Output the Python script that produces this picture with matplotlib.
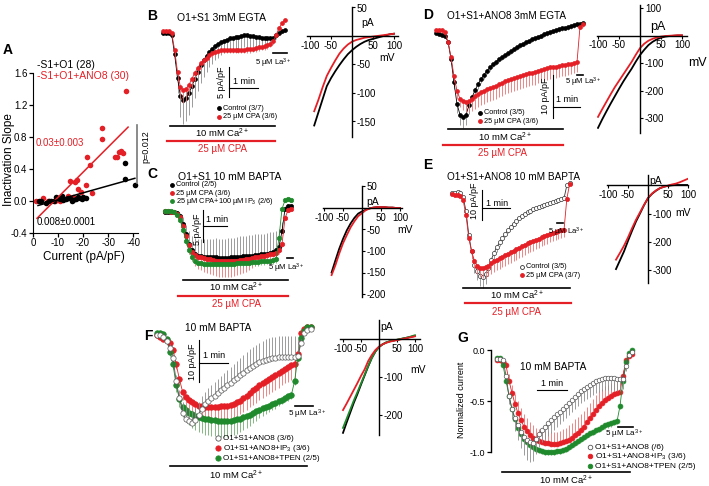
import numpy as np
import matplotlib
matplotlib.use('Agg')
import matplotlib.pyplot as plt
from matplotlib.lines import Line2D

plt.rcParams['font.family'] = ['Liberation Sans', 'DejaVu Sans']
plt.rcParams['mathtext.fontset'] = 'custom'
plt.rcParams['mathtext.rm'] = 'Liberation Sans'
plt.rcParams['mathtext.default'] = 'regular'
plt.rcParams['axes.unicode_minus'] = False

RED = '#e41f26'
GREEN = '#1f8a2c'
GRAY = '#8c8c8c'
PINK = '#f07070'
LGREEN = '#6fae6f'

# ---------------- data ----------------
# A: inactivation slope vs current
a_ctl_x = [-2.4, -3.3, -5.3, -6.4, -7.3, -8.4, -9.3, -10.1, -10.9, -11.5, -12.0, -13.3, -14.0, -14.9,
           -15.5, -16.0, -17.1, -18.0, -18.7, -19.7, -20.0, -21.1, -36.7, -36.7, -40.7]
a_ctl_y = [0.00, -0.01, -0.03, 0.00, 0.00, -0.01, 0.05, 0.03, 0.02, 0.06, 0.01, 0.02, 0.03, 0.03,
           0.00, 0.01, 0.02, 0.04, 0.03, 0.02, 0.05, 0.03, 0.47, 0.27, 0.20]
a_ano_x = [-1.1, -4.0, -6.0, -8.7, -10.7, -12.5, -14.0, -14.7, -16.0, -16.7, -17.6, -18.0, -19.3, -21.1,
           -21.6, -22.7, -23.7, -27.6, -27.6, -32.7, -33.6, -34.3, -35.3, -36.0, -37.3]
a_ano_y = [0.00, 0.03, 0.00, -0.01, 0.00, 0.02, 0.06, 0.25, 0.05, 0.23, 0.26, 0.14, 0.11, 0.19,
           0.54, 0.44, 0.09, 0.91, 0.77, 0.54, 0.55, 0.61, 0.62, 0.60, 1.37]
a_ctl_fit_x = [-2.0, -40.7]
a_ctl_fit_y = [-0.06, 0.28]
a_ano_fit_x = [-1.6, -38.0]
a_ano_fit_y = [-0.22, 0.92]

# B: O1+S1 3mM EGTA (pA/pF, 10 samples/min)
b_ctl = [0.0, 0.0, 0.0, -0.3, -3.5, -7.5, -10.5, -11.2, -10.8, -10.0,
         -8.8, -7.6, -6.5, -5.4, -4.5, -3.8, -3.1, -2.6, -2.1, -1.8,
         -1.5, -1.3, -1.1, -0.9, -0.8, -0.7, -0.6, -0.5, -0.4, -0.4,
         -0.5, -0.5, -0.6, -0.7, -0.8, -0.8, -0.9, -0.9, -0.8, -0.4,
         0.0, 0.3, 0.5]
b_ctl_err = [0.3, 0.3, 0.3, 0.5, 1.5, 2.5, 3.5, 4.0, 3.9, 3.7,
             3.5, 3.3, 3.1, 2.9, 2.8, 2.7, 2.6, 2.5, 2.4, 2.3,
             2.2, 2.1, 2.1, 2.0, 2.0, 2.0, 2.0, 2.0, 2.0, 1.9,
             1.9, 1.8, 1.8, 1.7, 1.6, 1.5, 1.4, 1.3, 1.0, 0.6,
             0.4, 0.3, 0.3]
b_cpa = [0.3, 0.3, 0.3, 0.0, -2.8, -6.5, -9.0, -9.5, -9.3, -8.6,
         -7.6, -6.6, -5.8, -5.0, -4.5, -4.1, -3.7, -3.4, -3.2, -3.0,
         -2.9, -2.8, -2.8, -2.8, -2.8, -2.8, -2.8, -2.8, -2.8, -2.7,
         -2.7, -2.6, -2.5, -2.4, -2.3, -2.2, -2.0, -1.8, -1.4, -0.3,
         0.8, 1.6, 2.2]
b_cpa_err = [0.3, 0.3, 0.3, 0.3, 1.0, 1.5, 2.0, 2.2, 2.0, 1.8,
             1.6, 1.4, 1.2, 1.0, 0.9, 0.8, 0.8, 0.7, 0.7, 0.7,
             0.6, 0.6, 0.6, 0.6, 0.6, 0.6, 0.6, 0.6, 0.6, 0.6,
             0.6, 0.6, 0.6, 0.6, 0.6, 0.6, 0.6, 0.6, 0.5, 0.4,
             0.3, 0.3, 0.3]

# C: O1+S1 10 mM BAPTA (8 samples/min)
c_ctl = [0.0, 0.0, 0.0, 0.0, -0.2, -0.6, -1.8, -3.5, -5.0, -6.0,
         -6.5, -6.8, -6.9, -7.0, -7.0, -7.1, -7.1, -7.1, -7.2, -7.2,
         -7.2, -7.2, -7.1, -7.1, -7.0, -7.0, -6.9, -6.9, -6.8, -6.8,
         -6.7, -6.7, -6.6, -6.6, -6.5, -6.4, -6.3, -6.0, -5.5, -3.0,
         0.5, 1.0, 1.0]
c_ctl_err = [0.2, 0.2, 0.2, 0.2, 0.3, 0.5, 1.0, 1.5, 2.0, 2.3,
             2.5, 2.6, 2.7, 2.8, 2.8, 2.9, 2.9, 3.0, 3.0, 3.0,
             3.0, 3.1, 3.1, 3.1, 3.1, 3.2, 3.2, 3.2, 3.2, 3.2,
             3.2, 3.2, 3.2, 3.2, 3.2, 3.2, 3.1, 3.0, 2.8, 1.5,
             0.5, 0.3, 0.3]
c_cpa = [0.1, 0.1, 0.0, 0.0, -0.3, -0.8, -2.2, -3.8, -5.2, -6.2,
         -6.7, -7.0, -7.1, -7.2, -7.3, -7.4, -7.5, -7.6, -7.6, -7.7,
         -7.7, -7.7, -7.7, -7.6, -7.6, -7.5, -7.5, -7.4, -7.3, -7.2,
         -7.1, -7.0, -6.9, -6.8, -6.7, -6.6, -6.5, -6.4, -6.0, -5.0,
         -1.0, 0.3, 0.5]
c_cpa_err = [0.2, 0.2, 0.2, 0.2, 0.3, 0.5, 0.8, 1.0, 1.3, 1.5,
             1.7, 1.9, 2.0, 2.1, 2.2, 2.3, 2.4, 2.4, 2.5, 2.5,
             2.5, 2.5, 2.4, 2.4, 2.3, 2.2, 2.1, 2.0, 1.8, 1.6,
             1.4, 1.2, 1.0, 0.9, 0.8, 0.7, 0.6, 0.6, 0.6, 0.5,
             0.3, 0.3, 0.3]
c_ip3 = [0.2, 0.2, 0.1, 0.0, -0.4, -1.2, -2.8, -4.5, -6.0, -7.0,
         -7.6, -7.9, -8.0, -8.1, -8.1, -8.2, -8.2, -8.2, -8.2, -8.2,
         -8.2, -8.1, -8.1, -8.1, -8.0, -8.0, -8.0, -7.9, -7.9, -7.8,
         -7.8, -7.8, -7.7, -7.7, -7.6, -7.6, -7.5, -7.4, -4.0, 0.5,
         1.8, 2.0, 1.9]
c_ip3_err = [0.2, 0.2, 0.2, 0.2, 0.3, 0.4, 0.5, 0.6, 0.6, 0.6,
             0.6, 0.6, 0.6, 0.6, 0.6, 0.6, 0.6, 0.6, 0.6, 0.6,
             0.6, 0.6, 0.6, 0.6, 0.6, 0.6, 0.6, 0.6, 0.6, 0.6,
             0.6, 0.6, 0.6, 0.6, 0.6, 0.6, 0.6, 0.6, 0.5, 0.3,
             0.3, 0.3, 0.3]

# D: O1+S1+ANO8 3mM EGTA (9 samples/min)
d_ctl = [0.0, -0.2, -0.4, -0.8, -2.0, -6.0, -11.5, -16.5, -19.0, -19.5,
         -19.0, -16.8, -15.0, -13.3, -11.9, -10.7, -9.7, -8.8, -8.0, -7.3,
         -6.7, -6.1, -5.6, -5.1, -4.7, -4.3, -3.7, -3.3, -2.9, -2.5,
         -2.1, -1.8, -1.5, -1.2, -0.9, -0.6, -0.3, -0.1, 0.2, 0.5,
         0.7, 0.9, 1.1, 1.2, 1.4, 1.6, 1.8, 2.0, 2.2, 2.3]
d_ctl_err = [0.3, 0.3, 0.3, 0.4, 0.8, 1.2, 1.6, 2.0, 2.4, 2.6,
             2.4, 2.0, 1.6, 1.4, 1.2, 1.0, 0.9, 0.8, 0.8, 0.7,
             0.7, 0.7, 0.6, 0.6, 0.6, 0.6, 0.6, 0.6, 0.6, 0.6,
             0.6, 0.6, 0.6, 0.6, 0.6, 0.6, 0.6, 0.6, 0.6, 0.6,
             0.6, 0.6, 0.6, 0.6, 0.6, 0.6, 0.6, 0.5, 0.5, 0.5]
d_cpa = [0.7, 0.8, 0.6, 0.2, -2.0, -5.6, -10.0, -13.5, -15.3, -15.8,
         -16.0, -15.8, -15.3, -14.6, -14.2, -13.7, -13.4, -13.0, -12.8, -12.6,
         -12.3, -11.9, -11.6, -11.2, -11.0, -10.7, -10.5, -10.2, -10.0, -9.8,
         -9.6, -9.4, -9.2, -9.0, -8.8, -8.6, -8.4, -8.2, -8.0, -7.9,
         -7.8, -7.6, -7.5, -7.4, -7.3, -7.1, -7.0, -6.8, 1.5, 2.0]
d_cpa_err = [0.3, 0.3, 0.3, 0.4, 0.8, 1.2, 1.5, 1.8, 2.0, 2.2,
             2.4, 2.6, 2.8, 3.0, 3.0, 3.0, 3.0, 3.0, 3.0, 3.0,
             3.0, 3.0, 3.0, 3.0, 3.0, 3.0, 3.0, 3.0, 3.0, 3.0,
             3.0, 3.0, 3.0, 3.0, 2.9, 2.9, 2.8, 2.8, 2.7, 2.7,
             2.6, 2.6, 2.5, 2.5, 2.4, 2.4, 2.3, 2.3, 0.5, 0.5]

# E: O1+S1+ANO8 10 mM BAPTA (10 samples/min)
e_ctl = [0.0, 0.0, 0.2, 0.0, -1.5, -6.0, -14.0, -19.5, -24.0, -26.0,
         -27.5, -28.0, -27.0, -25.0, -22.3, -20.0, -18.0, -16.5, -15.0, -13.7,
         -12.3, -11.2, -10.2, -9.2, -8.3, -7.6, -7.0, -6.4, -5.9, -5.4,
         -5.0, -4.6, -4.2, -3.9, -3.6, -3.3, -3.0, -2.7, -2.4, -2.1,
         -1.8, 2.5, 3.3]
e_ctl_err = [0.3, 0.3, 0.3, 0.3, 0.5, 1.0, 1.5, 2.0, 2.5, 3.0,
             3.5, 3.5, 3.2, 2.8, 2.4, 2.0, 1.6, 1.3, 1.1, 1.0,
             0.9, 0.9, 0.8, 0.8, 0.8, 0.7, 0.7, 0.7, 0.7, 0.6,
             0.6, 0.6, 0.6, 0.6, 0.6, 0.6, 0.6, 0.6, 0.6, 0.6,
             0.6, 0.4, 0.4]
e_cpa = [-0.5, -0.7, -0.7, -1.0, -2.5, -7.5, -15.0, -19.5, -22.5, -24.2,
         -25.0, -25.0, -24.8, -24.2, -23.4, -22.8, -22.2, -21.7, -21.2, -20.7,
         -20.2, -19.7, -19.2, -18.7, -18.3, -17.8, -17.3, -16.8, -16.4, -16.0,
         -15.6, -15.2, -14.8, -14.4, -14.0, -13.7, -13.4, -13.1, -12.8, -12.5,
         -12.3, -2.0, 3.0]
e_cpa_err = [0.3, 0.3, 0.3, 0.3, 0.6, 1.0, 1.5, 2.0, 2.5, 2.8,
             3.0, 3.2, 3.4, 3.5, 3.6, 3.6, 3.6, 3.6, 3.6, 3.6,
             3.6, 3.6, 3.5, 3.5, 3.5, 3.4, 3.4, 3.3, 3.3, 3.2,
             3.2, 3.1, 3.0, 3.0, 2.9, 2.8, 2.7, 2.6, 2.5, 2.4,
             2.3, 0.5, 0.3]

# F: 10 mM BAPTA, O1+S1+ANO8 (9 samples/min)
f_ctl = [0.0, 0.0, -0.5, -1.5, -3.0, -5.5, -11.0, -15.0, -18.5, -20.0,
         -20.5, -21.0, -20.3, -19.0, -17.5, -16.5, -15.7, -15.0, -14.5, -13.8,
         -13.2, -12.6, -12.0, -11.4, -10.8, -10.2, -9.6, -9.0, -8.3, -7.8,
         -7.3, -6.9, -6.5, -6.2, -5.9, -5.7, -5.5, -5.4, -5.3, -5.2,
         -5.2, -5.2, -5.2, -5.2, -5.0, -2.0, 0.5, 1.2, 1.5]
f_ctl_err = [0.3, 0.3, 0.3, 0.5, 0.8, 1.0, 1.5, 2.0, 2.5, 2.8,
             3.0, 3.0, 3.0, 3.0, 3.0, 3.0, 3.1, 3.2, 3.3, 3.4,
             3.5, 3.6, 3.7, 3.8, 3.9, 4.0, 4.1, 4.2, 4.3, 4.4,
             4.5, 4.6, 4.7, 4.8, 4.9, 5.0, 5.0, 5.0, 5.0, 5.0,
             5.0, 5.0, 5.0, 5.0, 4.5, 1.0, 0.5, 0.3, 0.3]
f_ip3 = [0.0, -0.5, -1.0, -1.2, -2.0, -3.5, -7.0, -10.5, -13.5, -14.8,
         -15.5, -16.0, -16.5, -16.8, -17.0, -17.1, -17.1, -17.1, -17.1, -17.1,
         -17.0, -17.0, -16.9, -16.7, -16.4, -16.0, -15.6, -15.1, -14.5, -13.8,
         -13.2, -12.6, -12.0, -11.5, -11.0, -10.5, -10.0, -9.5, -9.0, -8.5,
         -8.0, -7.6, -7.2, -6.8, -4.5, 0.5, 1.5, 1.8, 1.8]
f_ip3_err = [0.3, 0.3, 0.3, 0.3, 0.5, 0.8, 1.2, 1.6, 2.0, 2.3,
             2.5, 2.6, 2.7, 2.8, 2.9, 3.0, 3.0, 3.0, 3.0, 3.0,
             3.0, 3.0, 3.1, 3.1, 3.2, 3.2, 3.3, 3.3, 3.4, 3.4,
             3.5, 3.5, 3.5, 3.5, 3.5, 3.5, 3.5, 3.5, 3.5, 3.5,
             3.5, 3.5, 3.5, 3.4, 2.0, 0.5, 0.3, 0.3, 0.3]
f_tpen = [0.5, 0.5, 0.2, -1.0, -4.0, -7.0, -12.0, -15.2, -17.1, -17.8,
          -18.5, -18.9, -19.2, -19.6, -19.8, -20.0, -20.1, -20.2, -20.3, -20.4,
          -20.4, -20.5, -20.5, -20.4, -20.3, -20.1, -19.9, -19.6, -19.3, -19.0,
          -18.6, -18.2, -17.8, -17.4, -17.1, -16.8, -16.5, -16.2, -15.8, -15.4,
          -15.0, -14.6, -14.2, -11.0, -5.5, -0.8, 1.0, 1.8, 1.8]
f_tpen_err = [0.3, 0.3, 0.3, 0.4, 0.6, 1.0, 1.5, 2.0, 2.5, 2.8,
              3.0, 3.2, 3.4, 3.5, 3.6, 3.7, 3.8, 3.8, 3.8, 3.8,
              3.8, 3.8, 3.7, 3.6, 3.5, 3.4, 3.2, 3.0, 2.8, 2.6,
              2.4, 2.2, 2.0, 1.8, 1.6, 1.5, 1.4, 1.3, 1.2, 1.1,
              1.0, 1.0, 1.0, 1.0, 0.8, 0.4, 0.3, 0.3, 0.3]

# G: normalized current (10 samples/min)
g_ctl = [-0.09, -0.09, -0.10, -0.25, -0.45, -0.58, -0.67, -0.74, -0.80, -0.85,
         -0.88, -0.90, -0.91, -0.87, -0.82, -0.78, -0.75, -0.72, -0.69, -0.66,
         -0.63, -0.61, -0.58, -0.55, -0.52, -0.49, -0.46, -0.43, -0.40, -0.38,
         -0.36, -0.34, -0.32, -0.30, -0.29, -0.28, -0.27, -0.27, -0.27, -0.27,
         -0.28, -0.28, -0.28, -0.16, -0.05, -0.02]
g_ctl_err = [0.02, 0.02, 0.02, 0.05, 0.08, 0.10, 0.12, 0.14, 0.16, 0.18,
             0.20, 0.20, 0.18, 0.15, 0.13, 0.12, 0.12, 0.12, 0.12, 0.12,
             0.12, 0.12, 0.12, 0.12, 0.12, 0.12, 0.12, 0.12, 0.12, 0.12,
             0.12, 0.12, 0.12, 0.12, 0.12, 0.12, 0.12, 0.12, 0.12, 0.12,
             0.12, 0.12, 0.10, 0.05, 0.02, 0.02]
g_ip3 = [-0.10, -0.10, -0.12, -0.15, -0.30, -0.42, -0.53, -0.62, -0.69, -0.75,
         -0.79, -0.83, -0.86, -0.88, -0.89, -0.90, -0.91, -0.91, -0.92, -0.92,
         -0.92, -0.91, -0.90, -0.89, -0.88, -0.86, -0.83, -0.81, -0.78, -0.75,
         -0.71, -0.67, -0.63, -0.59, -0.55, -0.52, -0.49, -0.47, -0.45, -0.43,
         -0.42, -0.41, -0.25, -0.10, -0.06, -0.04]
g_ip3_err = [0.02, 0.02, 0.02, 0.04, 0.06, 0.08, 0.10, 0.12, 0.12, 0.12,
             0.12, 0.12, 0.12, 0.12, 0.12, 0.12, 0.12, 0.12, 0.12, 0.12,
             0.12, 0.12, 0.13, 0.13, 0.14, 0.14, 0.15, 0.15, 0.15, 0.15,
             0.15, 0.15, 0.15, 0.15, 0.15, 0.14, 0.14, 0.13, 0.13, 0.12,
             0.12, 0.10, 0.05, 0.02, 0.02, 0.02]
g_tpen = [-0.08, -0.08, -0.15, -0.30, -0.45, -0.58, -0.68, -0.76, -0.82, -0.87,
          -0.90, -0.93, -0.95, -0.97, -0.98, -0.99, -1.00, -1.00, -1.00, -1.00,
          -0.99, -0.99, -0.98, -0.97, -0.95, -0.93, -0.91, -0.89, -0.87, -0.85,
          -0.83, -0.81, -0.80, -0.78, -0.77, -0.75, -0.74, -0.73, -0.72, -0.71,
          -0.70, -0.55, -0.30, -0.12, -0.03, 0.00]
g_tpen_err = [0.02, 0.02, 0.02, 0.03, 0.03, 0.03, 0.03, 0.03, 0.03, 0.03,
              0.03, 0.03, 0.03, 0.03, 0.03, 0.03, 0.03, 0.03, 0.03, 0.03,
              0.03, 0.03, 0.03, 0.03, 0.03, 0.03, 0.03, 0.03, 0.03, 0.03,
              0.03, 0.03, 0.03, 0.03, 0.03, 0.03, 0.03, 0.03, 0.03, 0.03,
              0.03, 0.03, 0.03, 0.02, 0.02, 0.02]

# I-V curves (mV, pA)
iv_b_mv = [-90, -80, -70, -60, -50, -40, -30, -20, -10, 0, 10, 20, 30, 40, 50, 60, 70, 80, 90, 100]
iv_b_ctl = [-157, -134, -111, -88, -74, -62, -51, -41, -32, -25, -19, -14, -10, -7, -5, -3, -1, 1, 3, 4]
iv_b_cpa = [-132, -112, -90, -70, -56, -43, -31, -22, -15, -10, -7, -5, -3, -2, -1, 0, 1, 2, 3, 4]

iv_c_mv = [-80, -70, -60, -50, -40, -30, -20, -10, 0, 10, 20, 30, 40, 50, 60, 70, 80, 90, 100]
iv_c_ctl = [-150, -122, -95, -72, -52, -36, -23, -13, -8, -4, -1, 1, 2, 2, 2, 1, 1, 0, 0]
iv_c_cpa = [-156, -133, -106, -82, -63, -45, -31, -19, -12, -5, -1, 1, 2, 2, 2, 1, 1, 0, 0]

iv_d_mv = [-100, -90, -80, -70, -60, -50, -40, -30, -20, -10, 0, 10, 20, 30, 40, 50, 60, 70, 80, 90, 100]
iv_d_ctl = [-336, -305, -276, -248, -221, -194, -168, -144, -121, -95, -71, -52, -35, -23, -14, -8, -4, -2, -1, 0, 0]
iv_d_cpa = [-296, -268, -241, -214, -188, -165, -142, -119, -96, -70, -46, -30, -19, -12, -7, -4, -2, -1, 0, 1, 1]

iv_e_mv = [-80, -70, -60, -50, -40, -30, -20, -10, 0, 10, 20, 30, 40, 50, 60, 70, 80, 90, 100]
iv_e_ctl = [-295, -264, -233, -196, -161, -128, -100, -71, -46, -31, -20, -11, -6, -3, -1, 0, 0, 0, 0]
iv_e_cpa = [-262, -238, -213, -184, -152, -122, -96, -70, -46, -30, -19, -11, -6, -2, 2, 5, 10, 16, 22]

iv_f_mv = [-100, -90, -80, -70, -60, -50, -40, -30, -20, -10, 0, 10, 20, 30, 40, 50, 60, 70, 80, 90, 100]
iv_f_ctl = [-247, -220, -194, -168, -145, -120, -96, -72, -50, -33, -21, -14, -9, -6, -4, -2, 0, 2, 4, 6, 8]
iv_f_ip3 = [-187, -170, -152, -134, -116, -97, -80, -58, -42, -29, -20, -14, -10, -7, -5, -3, -1, 1, 3, 5, 7]
iv_f_tpen = [-234, -210, -186, -162, -140, -117, -94, -71, -50, -33, -21, -14, -9, -6, -4, -2, 0, 2, 4, 7, 10]

# ---------------- helpers ----------------
W, H = 709, 486
fig = plt.figure(figsize=(W / 100, H / 100), dpi=100)


def fx(x):
    return x / W


def fy(y):
    return 1 - y / H


def txt(x, y, s, size=7, color='k', ha='left', va='center', rot=0, bold=False):
    fig.text(fx(x), fy(y), s, fontsize=size, color=color, ha=ha, va=va, rotation=rot,
             fontweight='bold' if bold else 'normal')


def hbar(x0, x1, y, color='k', lw=1.2):
    fig.add_artist(Line2D([fx(x0), fx(x1)], [fy(y), fy(y)], color=color, lw=lw,
                          transform=fig.transFigure))


def vbar(x, y0, y1, color='k', lw=1.2):
    fig.add_artist(Line2D([fx(x), fx(x)], [fy(y0), fy(y1)], color=color, lw=lw,
                          transform=fig.transFigure))


def dot(x, y, color, face=None, ms=3.2):
    fig.add_artist(Line2D([fx(x)], [fy(y)], marker='o', ms=ms, mfc=face or color, mec=color,
                          mew=0.6, ls='none', transform=fig.transFigure))


def box_axes(x0, y0, x1, y1):
    return fig.add_axes([fx(x0), fy(y1), (x1 - x0) / W, (y1 - y0) / H])


def trace_axes(x0, y0, x1, y1, t0, dt, zero, k):
    ax = box_axes(x0, y0, x1, y1)
    ax.set_xlim((x0 - t0) / dt, (x1 - t0) / dt)
    ax.set_ylim((zero - y1) / k, (zero - y0) / k)
    ax.axis('off')
    return ax


def trace(ax, vals, err, color, face, ecolor, ms, up=False):
    v = np.asarray(vals, float)
    e = np.asarray(err, float)
    t = np.arange(len(v))
    lo, hi = (v, v + e) if up else (v - e, v)
    ax.vlines(t, lo, hi, color=ecolor, lw=0.6)
    ax.plot(t, v, '-', color=color, lw=0.6)
    ax.plot(t, v, 'o', ls='none', ms=ms, mfc=face, mec=color, mew=0.5)


def iv_axes(ox, oy, kx, ky, xlim, ylim, yticks, size=7):
    ax = box_axes(ox + xlim[0] * kx, oy - ylim[1] * ky, ox + xlim[1] * kx, oy - ylim[0] * ky)
    ax.set_xlim(xlim)
    ax.set_ylim(ylim)
    ax.patch.set_visible(False)
    ax.spines['left'].set_visible(False)
    ax.spines['top'].set_visible(False)
    ax.spines['right'].set_position(('data', 0))
    ax.spines['bottom'].set_position(('data', 0))
    ax.spines['right'].set_linewidth(1.0)
    ax.spines['bottom'].set_linewidth(1.0)
    ax.yaxis.tick_right()
    ax.set_xticks([-100, -50, 50, 100])
    ax.set_yticks(yticks)
    ax.tick_params(direction='out', length=2.5, width=0.8, labelsize=size, pad=1)
    return ax


# ---------------- A ----------------
axA = box_axes(33, 72.7, 137.6, 232.7)
axA.scatter(a_ano_x, a_ano_y, s=16, color=RED, lw=0, zorder=2)
axA.scatter(a_ctl_x, a_ctl_y, s=16, color='k', lw=0, zorder=3)
axA.plot(a_ano_fit_x, a_ano_fit_y, color=RED, lw=1.1, zorder=4)
axA.plot(a_ctl_fit_x, a_ctl_fit_y, color='k', lw=1.1, zorder=4)
axA.set_xlim(0, -41.8)
axA.set_ylim(-0.4, 1.6)
axA.set_yticks([-0.4, 0.0, 0.4, 0.8, 1.2, 1.6])
axA.set_yticklabels(['-0.4', '0.0', '0.4', '0.8', '1.2', '1.6'])
axA.set_xticks([0, -10, -20, -30, -40])
axA.set_xticklabels(['0', '-10', '-20', '-30', '-40'])
axA.spines['top'].set_visible(False)
axA.spines['right'].set_visible(False)
axA.tick_params(labelsize=7, length=3, width=0.9, pad=1)
txt(8, 50, 'A', 10, bold=True, ha='center')
txt(37, 65, '-S1+O1 (28)', 7.5)
txt(37, 76, '-S1+O1+ANO8 (30)', 7.5, RED)
txt(36, 143, '0.03±0.003', 7, RED)
txt(37, 222, '0.008±0.0001', 7)
txt(9, 160, 'Inactivation Slope', 8.5, rot=90, ha='center')
txt(84, 257, 'Current (pA/pF)', 8.5, ha='center')
txt(146, 147, 'p=0.012', 6.5, rot=90, ha='center')
vbar(137, 125, 183, '#777777', 1.2)

# ---------------- B ----------------
axB = trace_axes(158, 12, 292, 126, 163, 2.9, 33, 6.0)
trace(axB, b_ctl, b_ctl_err, 'k', 'k', GRAY, 2.8)
trace(axB, b_cpa, b_cpa_err, RED, RED, PINK, 2.8)
axB.plot([22.8, 22.8], [-10.7, -5.7], 'k', lw=0.8)
axB.plot([22.8, 32.8], [-9.2, -9.2], 'k', lw=0.8)
txt(152, 16, 'B', 10, bold=True, ha='center')
txt(177, 18, 'O1+S1 3mM EGTA', 7.5)
dot(219, 108, 'k', ms=2.8)
txt(223, 108, 'Control (3/7)', 5.3)
dot(219, 117, RED, ms=2.8)
txt(223, 117, '25 µM CPA (3/6)', 5.3)
hbar(170, 275, 126)
txt(222, 133.5, '10 mM Ca$^{2+}$', 6.8, ha='center')
hbar(167, 275, 141, RED, 1.6)
txt(222, 149, '25 µM CPA', 7, RED, ha='center')
txt(222, 82, '5 pA/pF', 6.5, rot=90, ha='center')
txt(244, 82, '1 min', 6.5, ha='center')
hbar(273, 287, 53)
txt(255, 63, '5 µM La$^{3+}$', 5.5)

axBi = iv_axes(352, 36, 0.42, 0.57, (-107, 110), (-177, 50), [50, -50, -100, -150])
axBi.plot(iv_b_mv, iv_b_ctl, color='k', lw=1.3)
axBi.plot(iv_b_mv, iv_b_cpa, color=RED, lw=1.3)
txt(368, 23, 'pA', 7.5, ha='center')
txt(387, 58, 'mV', 7.5, ha='center')

# ---------------- C ----------------
axC = trace_axes(160, 195, 300, 282, 165, 3.0, 212, 6.4)
trace(axC, c_ctl, c_ctl_err, 'k', 'k', GRAY, 3.0, up=True)
trace(axC, c_cpa, c_cpa_err, RED, RED, PINK, 3.2)
trace(axC, c_ip3, c_ip3_err, GREEN, GREEN, LGREEN, 3.2)
axC.plot([12.67, 12.67], [-4.7, 0.3], 'k', lw=0.8)
axC.plot([12.67, 20.67], [-2.2, -2.2], 'k', lw=0.8)
txt(152, 174, 'C', 10, bold=True, ha='center')
txt(178, 177, 'O1+S1 10 mM BAPTA', 7.5)
dot(172, 185, 'k', ms=2.8)
txt(176, 185, 'Control (2/5)', 5.3)
dot(172, 193, RED, ms=2.8)
txt(176, 193, '25 µM CPA (3/6)', 5.3)
dot(172, 201, GREEN, ms=2.8)
txt(176, 201, '25 µM CPA+100 µM IP$_3$ (2/6)', 5.3)
txt(197, 229, '5 pA/pF', 6.5, rot=90, ha='center')
txt(217, 220, '1 min', 6.5, ha='center')
hbar(287, 293, 258)
txt(268, 268, '5 µM La$^{3+}$', 5.5)
hbar(183, 288, 280)
txt(236, 287.5, '10 mM Ca$^{2+}$', 6.8, ha='center')
hbar(178, 288, 296, RED, 1.6)
txt(236, 304, '25 µM CPA', 7, RED, ha='center')

axCi = iv_axes(362, 208, 0.38, 0.43, (-103, 105), (-207, 52), [50, -50, -100, -150, -200])
axCi.plot(iv_c_mv, iv_c_ctl, color='k', lw=1.3)
axCi.plot(iv_c_mv, iv_c_cpa, color=RED, lw=1.3)
txt(373, 202, 'pA', 7.5, ha='center')
txt(405, 230, 'mV', 7.5, ha='center')

# ---------------- D ----------------
axD = trace_axes(430, 8, 592, 131, 436, 3.0, 33, 4.3)
trace(axD, d_ctl, d_ctl_err, 'k', 'k', GRAY, 2.8)
trace(axD, d_cpa, d_cpa_err, RED, RED, PINK, 2.8)
axD.plot([39, 39], [-19.8, -9.8], 'k', lw=0.8)
axD.plot([39, 48], [-17.2, -17.2], 'k', lw=0.8)
txt(428, 15, 'D', 10, bold=True, ha='center')
txt(447, 16, 'O1+S1+ANO8 3mM EGTA', 7.2)
dot(480, 113, 'k', ms=2.8)
txt(484, 113, 'Control (3/5)', 5.3)
dot(480, 121, RED, ms=2.8)
txt(484, 121, '25 µM CPA (3/6)', 5.3)
hbar(448, 563, 129)
txt(505, 137, '10 mM Ca$^{2+}$', 6.8, ha='center')
hbar(443, 563, 145, RED, 1.6)
txt(503, 153, '25 µM CPA', 7, RED, ha='center')
txt(546, 96, '10 pA/pF', 6.5, rot=90, ha='center')
txt(567, 100, '1 min', 6.5, ha='center')
hbar(577, 583, 75)
txt(565, 82, '5 µM La$^{3+}$', 5.5)

axDi = iv_axes(640, 35.5, 0.42, 0.275, (-102, 112), (-355, 111), [100, -100, -200, -300])
axDi.plot(iv_d_mv, iv_d_ctl, color='k', lw=1.3)
axDi.plot(iv_d_mv, iv_d_cpa, color=RED, lw=1.3)
txt(658, 27, 'pA', 9, ha='center')
txt(697, 63, 'mV', 9, ha='center')

# ---------------- E ----------------
axE = trace_axes(447, 178, 577, 292, 452, 2.8, 193, 3.0)
trace(axE, e_ctl, e_ctl_err, '#333333', 'white', GRAY, 3.0)
trace(axE, e_cpa, e_cpa_err, RED, RED, PINK, 3.0)
axE.plot([10.7, 10.7], [-9.0, 1.0], 'k', lw=0.8)
axE.plot([10.7, 20.7], [-5.0, -5.0], 'k', lw=0.8)
txt(428, 165, 'E', 10, bold=True, ha='center')
txt(447, 177, 'O1+S1+ANO8 10 mM BAPTA', 7.2)
dot(522, 267, '#333333', 'white', ms=2.8)
txt(526, 267, 'Control (3/5)', 5.3)
dot(522, 275, RED, ms=2.8)
txt(526, 275, '25 µM CPA (3/7)', 5.3)
hbar(463, 570, 288)
txt(517, 295.5, '10 mM Ca$^{2+}$', 6.8, ha='center')
hbar(465, 571, 303, RED, 1.6)
txt(517, 312, '25 µM CPA', 7, RED, ha='center')
txt(475, 201, '10 pA/pF', 6.5, rot=90, ha='center')
txt(497, 203, '1 min', 6.5, ha='center')
hbar(557, 563, 223)
txt(548, 232, '5 µM La$^{3+}$', 5.5)

axEi = iv_axes(648, 185, 0.4, 0.285, (-102, 100), (-344, 35), [-100, -200, -300])
axEi.plot(iv_e_mv, iv_e_ctl, color='k', lw=1.3)
axEi.plot(iv_e_mv, iv_e_cpa, color=RED, lw=1.3)
txt(656, 181, 'pA', 7.5, ha='center')
txt(683, 213, 'mV', 7.5, ha='center')

# ---------------- F ----------------
axF = trace_axes(150, 318, 318, 445, 157, 3.2, 335, 4.2)
trace(axF, f_ip3, f_ip3_err, RED, RED, PINK, 4.0)
trace(axF, f_tpen, f_tpen_err, GREEN, GREEN, LGREEN, 4.0)
trace(axF, f_ctl, f_ctl_err, '#555555', 'white', GRAY, 3.8, up=True)
axF.plot([13.1, 13.1], [-11.2, -1.2], 'k', lw=0.8)
axF.plot([13.1, 22.1], [-6.7, -6.7], 'k', lw=0.8)
txt(148, 336, 'F', 10, bold=True, ha='center')
txt(185, 328, '10 mM BAPTA', 7.3)
txt(192, 362, '10 pA/pF', 6.5, rot=90, ha='center')
txt(214, 356, '1 min', 6.5, ha='center')
hbar(295, 313, 406)
txt(288, 414, '5 µM La$^{3+}$', 5.8)
dot(218, 438, '#555555', 'white', ms=3.8)
txt(223, 438, 'O1+S1+ANO8 (3/6)', 5.8)
dot(218, 448, RED, ms=3.8)
txt(223, 448, 'O1+S1+ANO8+IP$_3$ (3/6)', 5.8)
dot(218, 458, GREEN, ms=3.8)
txt(223, 458, 'O1+S1+ANO8+TPEN (2/5)', 5.8)
hbar(170, 307, 466)
txt(236, 475, '10 mM Ca$^{2+}$', 6.8, ha='center')

axFi = iv_axes(379, 339, 0.36, 0.38, (-108, 114), (-253, 50), [-100, -200])
axFi.plot(iv_f_mv, iv_f_ctl, color='k', lw=1.3)
axFi.plot(iv_f_mv, iv_f_tpen, color=GREEN, lw=1.3)
axFi.plot(iv_f_mv, iv_f_ip3, color=RED, lw=1.3)
txt(387, 327, 'pA', 7.5, ha='center')
txt(418, 370, 'mV', 7.5, ha='center')

# ---------------- G ----------------
axG = box_axes(491, 345, 640, 470)
trace(axG, g_ip3, g_ip3_err, RED, RED, PINK, 3.5, up=True)
trace(axG, g_tpen, g_tpen_err, GREEN, GREEN, LGREEN, 3.5)
trace(axG, g_ctl, g_ctl_err, '#555555', 'white', GRAY, 3.3)
axG.set_xlim((491 - 497) / 3.0, (640 - 497) / 3.0)
axG.set_ylim(-(470 - 350) / 102, (350 - 345) / 102)
for s in ('top', 'right', 'bottom'):
    axG.spines[s].set_visible(False)
axG.spines['left'].set_bounds(-1.0, 0.0)
axG.spines['left'].set_linewidth(1.0)
axG.patch.set_visible(False)
axG.set_xticks([])
axG.set_yticks([0.0, -0.5, -1.0])
axG.set_yticklabels(['0.0', '-0.5', '-1.0'])
axG.tick_params(labelsize=6.5, length=3, width=0.9, pad=1.5)
axG.plot([13.3, 23.3], [-0.39, -0.39], 'k', lw=0.8)
txt(463, 338, 'G', 10, bold=True, ha='center')
txt(462, 400, 'Normalized current', 6.5, rot=90, ha='center')
txt(520, 367, '10 mM BAPTA', 7.3)
txt(552, 383, '1 min', 6.5, ha='center')
hbar(618, 633, 427)
txt(605, 434, '5 µM La$^{3+}$', 5.8)
dot(590, 447, '#555555', 'white', ms=3.3)
txt(595, 447, 'O1+S1+ANO8 (/6)', 6)
dot(590, 456, RED, ms=3.3)
txt(595, 456, 'O1+S1+ANO8+IP$_3$ (3/6)', 6)
dot(590, 466, GREEN, ms=3.3)
txt(595, 466, 'O1+S1+ANO8+TPEN (2/5)', 6)
hbar(502, 630, 472)
txt(566, 480, '10 mM Ca$^{2+}$', 6.8, ha='center')

fig.savefig('out.png', dpi=100)
